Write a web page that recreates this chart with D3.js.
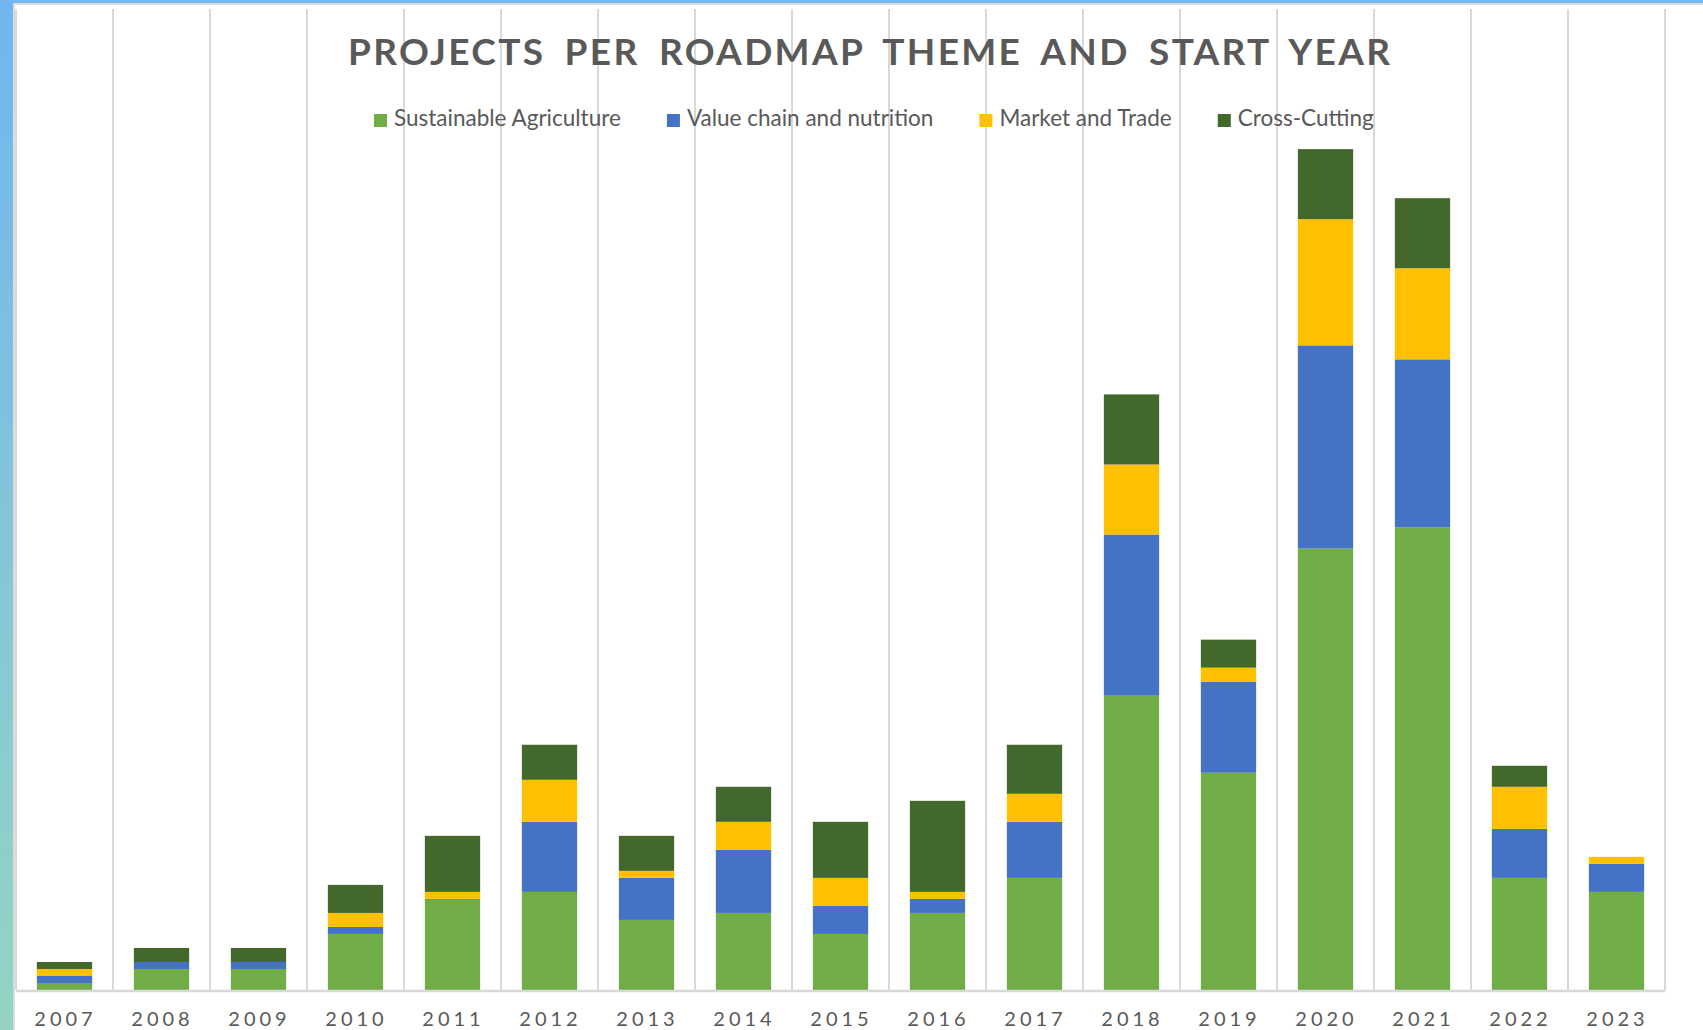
<!DOCTYPE html>
<html>
<head>
<meta charset="utf-8">
<script src="https://cdn.jsdelivr.net/npm/d3@7"></script>
<style>
  body { margin: 0; background: #fff; }
  svg { display: block; }
  text { font-family: Lato, "Open Sans", sans-serif; fill: #595959; }
</style>
</head>
<body>
<div id="Results"><svg width="1703" height="1030"></svg></div>
<script>
var years = ['2007','2008','2009','2010','2011','2012','2013','2014','2015','2016','2017','2018','2019','2020','2021','2022','2023'];
var agriculture  = [1, 3, 3, 8, 13, 14, 10, 11, 8, 11, 16, 42, 31, 63, 66, 16, 14];
var valueChain   = [1, 1, 1, 1, 0, 10, 6, 9, 4, 2, 8, 23, 13, 29, 24, 7, 4];
var marketTrade  = [1, 0, 0, 2, 1, 6, 1, 4, 4, 1, 4, 10, 2, 18, 13, 6, 1];
var crossCutting = [1, 2, 2, 4, 8, 5, 5, 5, 8, 13, 7, 10, 4, 10, 10, 3, 0];
var seriesNames = ['Sustainable Agriculture', 'Value chain and nutrition', 'Market and Trade', 'Cross-Cutting'];
var seriesKeys = ['agri', 'value', 'market', 'cross'];
var colors = ['#70ad47', '#4472c4', '#ffc000', '#43682b'];
var yMax = 140;

d3.select(window).on('load', init);

function init() {
	var svg = d3.select('#Results').select('svg');

	// frame: blue page edge + light grey chart border
	var grad = svg.append('defs').append('linearGradient')
		.attr('id', 'edge').attr('x1', 0).attr('y1', 0).attr('x2', 0).attr('y2', 1);
	grad.append('stop').attr('offset', '0%').attr('stop-color', '#70b6f0');
	grad.append('stop').attr('offset', '100%').attr('stop-color', '#95d4c3');
	svg.append('rect').attr('x', 0).attr('y', 0).attr('width', 13).attr('height', 1030).attr('fill', 'url(#edge)');
	svg.append('rect').attr('x', 0).attr('y', 0).attr('width', 1703).attr('height', 3).attr('fill', '#72b7ef');
	svg.append('rect').attr('x', 13).attr('y', 3).attr('width', 1690).attr('height', 2).attr('fill', '#dcdcdc');
	svg.append('rect').attr('x', 13).attr('y', 3).attr('width', 2).attr('height', 1027).attr('fill', '#dcdcdc');

	var data = years.map(function(y, i) {
		return { year: y, agri: agriculture[i], value: valueChain[i], market: marketTrade[i], cross: crossCutting[i] };
	});

	var left = 16, right = 1665, top = 9, bottom = 990;

	var x = d3.scaleBand().domain(years).range([left, right])
		.paddingInner(0.43).paddingOuter(0.215);
	var y = d3.scaleLinear().domain([0, yMax]).range([bottom, top]);

	// vertical gridlines at category boundaries
	var step = x.step();
	var bounds = years.map(function(d) { return x(d) + x.bandwidth() / 2 - step / 2; });
	bounds.push(right);
	svg.append('g').selectAll('line')
		.data(bounds)
		.enter().append('line')
		.attr('x1', function(d) { return d; })
		.attr('x2', function(d) { return d; })
		.attr('y1', top)
		.attr('y2', bottom)
		.attr('stroke', '#d9d9d9')
		.attr('stroke-width', 2);

	var stack = d3.stack().keys(seriesKeys);
	var layers = stack(data);

	svg.append('g').selectAll('g')
		.data(layers)
		.enter().append('g')
		.attr('fill', function(d, i) { return colors[i]; })
		.selectAll('rect')
		.data(function(d) { return d; })
		.enter().append('rect')
		.attr('x', function(d) { return x(d.data.year); })
		.attr('y', function(d) { return y(d[1]); })
		.attr('width', x.bandwidth())
		.attr('height', function(d) { return y(d[0]) - y(d[1]); });

	// axis line
	svg.append('line')
		.attr('x1', left).attr('x2', right)
		.attr('y1', bottom + 1).attr('y2', bottom + 1)
		.attr('stroke', '#d9d9d9').attr('stroke-width', 2.5);

	var xAxis = svg.append('g')
		.attr('transform', 'translate(0,' + bottom + ')')
		.call(d3.axisBottom(x).tickSize(0).tickPadding(0));
	xAxis.select('.domain').remove();
	xAxis.selectAll('text')
		.attr('y', 36)
		.attr('dy', 0)
		.attr('dx', 1)
		.style('font-family', 'Lato, sans-serif')
		.style('font-size', '20px')
		.style('letter-spacing', '4px')
		.style('fill', '#595959');

	// title
	svg.append('text')
		.attr('x', 869)
		.attr('y', 65)
		.attr('text-anchor', 'middle')
		.attr('textLength', 1042)
		.attr('lengthAdjust', 'spacing')
		.style('font-size', '37px')
		.style('font-weight', 'bold')
		.style('word-spacing', '8px')
		.text('PROJECTS PER ROADMAP THEME AND START YEAR');

	// legend
	var gap = 46;
	var legend = svg.append('g');
	var items = legend.selectAll('g')
		.data(seriesNames)
		.enter().append('g');
	items.append('rect')
		.attr('width', 13).attr('height', 13)
		.attr('y', -12)
		.attr('fill', function(d, i) { return colors[i]; });
	items.append('text')
		.attr('x', 20)
		.style('font-size', '22.5px')
		.text(function(d) { return d; });
	var pos = 0;
	items.each(function() {
		var w = this.getBBox().width;
		d3.select(this).attr('data-x', pos);
		pos += w + gap;
	});
	var total = pos - gap;
	var startX = 874 - total / 2;
	items.attr('transform', function() {
		return 'translate(' + (startX + (+d3.select(this).attr('data-x'))) + ',126)';
	});
}
</script>
</body>
</html>
